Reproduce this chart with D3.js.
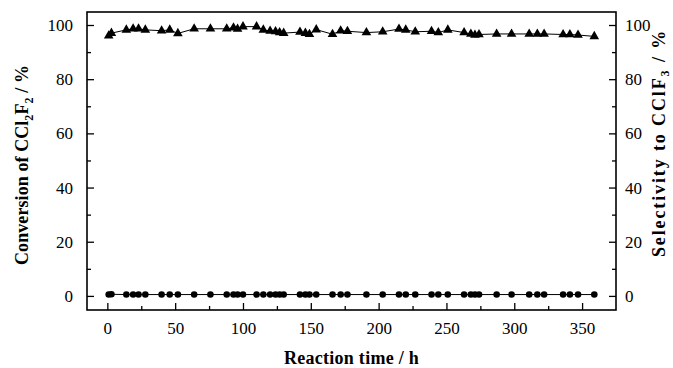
<!DOCTYPE html>
<html><head><meta charset="utf-8">
<script src="https://cdn.jsdelivr.net/npm/d3@7"></script>
<style>body{margin:0;background:#fff}svg{display:block}</style>
</head><body>
<svg id="c" width="673" height="368"></svg>
<script>
const times = [1,3,14,19,23,28,40,46,52,64,76,88,93,96,100,110,115,120,124,127,130,142,146,149,154,166,172,177,191,203,215,220,227,239,244,251,263,268,271,274,287,298,311,317,322,336,341,347,359];
const selectivity = [96,97,98.2,98.6,98.6,98.2,97.9,98.2,96.9,98.6,98.6,98.6,99,98.5,99.4,99.4,98.2,97.8,97.6,97.2,97.0,97.4,97.0,96.6,98.3,96.6,97.9,97.7,97.2,97.5,98.5,98.2,97.5,97.7,97.2,98.2,97.2,96.7,96.3,96.5,96.7,96.7,96.7,96.7,96.7,96.5,96.5,96.3,95.8];
const conversion = [0.5,0.6,0.5,0.5,0.5,0.5,0.5,0.5,0.5,0.5,0.5,0.5,0.5,0.5,0.5,0.5,0.5,0.5,0.5,0.5,0.5,0.5,0.5,0.5,0.5,0.5,0.5,0.5,0.5,0.5,0.5,0.5,0.5,0.5,0.5,0.5,0.5,0.5,0.5,0.5,0.5,0.5,0.5,0.5,0.5,0.5,0.5,0.5,0.5];
const xMajor = [0,50,100,150,200,250,300,350];
const xMinor = [25,75,125,175,225,275,325];
const yMajor = [0,20,40,60,80,100];
const yMinor = [10,30,50,70,90];

const L=87,R=616,T=12,B=310;
const svg=d3.select('#c');
const x=d3.scaleLinear().domain([-15,375]).range([L,R]);
const y=d3.scaleLinear().domain([-5.2,104.8]).range([B,T]);
const font='"Liberation Serif","Times New Roman",serif';

function styleAxis(g){
  g.select('.domain').remove();
  g.selectAll('line').attr('stroke','#000').attr('stroke-width',1.3);
  g.selectAll('text').attr('font-family',font).attr('font-size',17).attr('fill','#000');
}
svg.append('g').attr('transform',`translate(0,${B})`)
  .call(d3.axisBottom(x).tickValues(xMajor).tickSizeInner(-7).tickSizeOuter(0).tickPadding(12)).call(styleAxis);
svg.append('g').attr('transform',`translate(0,${B})`)
  .call(d3.axisBottom(x).tickValues(xMinor).tickSizeInner(-4).tickSizeOuter(0).tickFormat('')).call(styleAxis);
svg.append('g').attr('transform',`translate(${L},0)`)
  .call(d3.axisLeft(y).tickValues(yMajor).tickSizeInner(-7).tickSizeOuter(0).tickPadding(14)).call(styleAxis);
svg.append('g').attr('transform',`translate(${L},0)`)
  .call(d3.axisLeft(y).tickValues(yMinor).tickSizeInner(-4).tickSizeOuter(0).tickFormat('')).call(styleAxis);
svg.append('g').attr('transform',`translate(${R},0)`)
  .call(d3.axisRight(y).tickValues(yMajor).tickSizeInner(-7).tickSizeOuter(0).tickPadding(9)).call(styleAxis);
svg.append('g').attr('transform',`translate(${R},0)`)
  .call(d3.axisRight(y).tickValues(yMinor).tickSizeInner(-4).tickSizeOuter(0).tickFormat('')).call(styleAxis);

svg.append('rect').attr('x',L).attr('y',T).attr('width',R-L).attr('height',B-T)
  .attr('fill','none').attr('stroke','#000').attr('stroke-width',1.6);

const line=d3.line().x((d,i)=>x(times[i])).y(d=>y(d));
svg.append('path').datum(selectivity).attr('d',line).attr('fill','none').attr('stroke','#000').attr('stroke-width',1);
svg.append('path').datum(conversion).attr('d',line).attr('fill','none').attr('stroke','#000').attr('stroke-width',1);

const tri=d3.symbol().type(d3.symbolTriangle).size(40);
svg.append('g').selectAll('path').data(selectivity).join('path')
  .attr('d',tri).attr('transform',(d,i)=>`translate(${x(times[i])},${y(d)})`).attr('fill','#000');
svg.append('g').selectAll('circle').data(conversion).join('circle')
  .attr('cx',(d,i)=>x(times[i])).attr('cy',d=>y(d)).attr('r',3.3).attr('fill','#000');

function fit(t,target){
  const w=t.node().getComputedTextLength();
  const n=t.text().length;
  t.attr('letter-spacing',((target-w)/n).toFixed(2));
}

const xt=svg.append('text').attr('x',(L+R)/2).attr('y',364).attr('text-anchor','middle')
  .attr('font-family',font).attr('font-weight','bold').attr('font-size',18).text('Reaction time / h');
fit(xt,135);

const lt=svg.append('text').attr('transform','translate(28,165) rotate(-90)').attr('text-anchor','middle')
  .attr('font-family',font).attr('font-weight','bold').attr('font-size',18);
lt.append('tspan').text('Conversion of CCl');
lt.append('tspan').attr('font-size',12).attr('dy',5).text('2');
lt.append('tspan').attr('dy',-5).text('F');
lt.append('tspan').attr('font-size',12).attr('dy',5).text('2');
lt.append('tspan').attr('dy',-5).text(' / %');
fit(lt,200);

const rt=svg.append('text').attr('transform','translate(665,143) rotate(-90)').attr('text-anchor','middle')
  .attr('font-family',font).attr('font-weight','bold').attr('font-size',18);
rt.append('tspan').text('Selectivity to CClF');
rt.append('tspan').attr('font-size',12).attr('dy',4).text('3');
rt.append('tspan').attr('dy',-4).text(' / %');
fit(rt,228);
</script>
</body></html>
